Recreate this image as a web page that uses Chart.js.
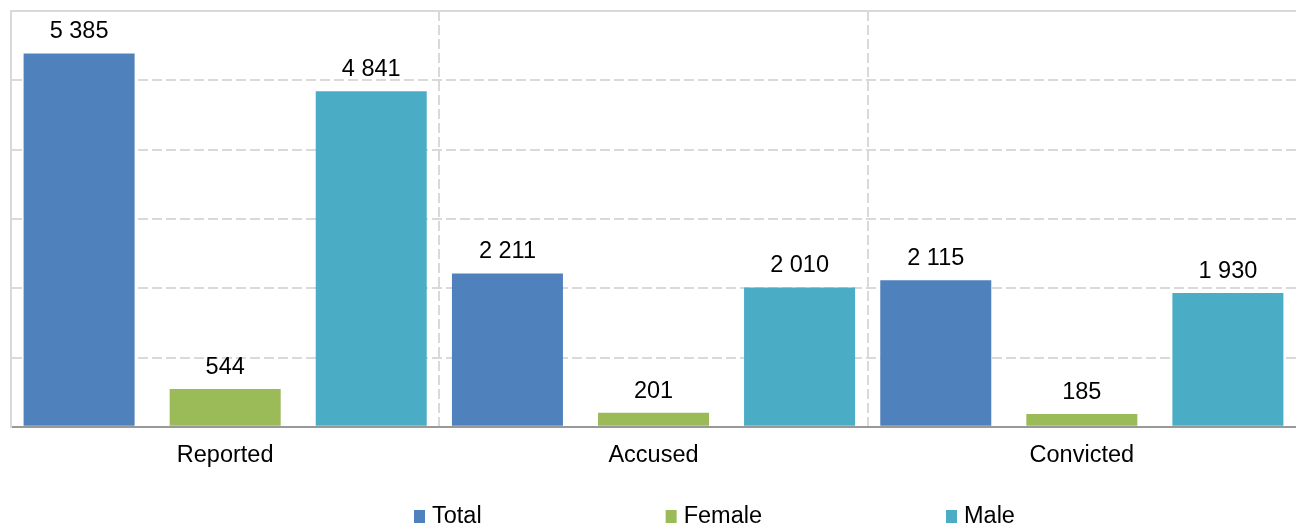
<!DOCTYPE html>
<html>
<head>
<meta charset="utf-8">
<script src="https://cdn.jsdelivr.net/npm/chart.js@4.4.1/dist/chart.umd.min.js"></script>
<style>
  html, body { margin: 0; padding: 0; background: #fff; }
</style>
</head>
<body>
<canvas id="myChart" width="1296" height="527"></canvas>
<script>
const categories = ["Reported", "Accused", "Convicted"];
const seriesNames = ["Total", "Female", "Male"];
const totalValues = [5385, 2211, 2115];
const femaleValues = [544, 201, 185];
const maleValues = [4841, 2010, 1930];
const seriesColors = ["#4F81BD", "#9BBB59", "#4BACC6"];
const yMax = 6000;
const yStep = 1000;

const FONT = "'Liberation Sans', Arial, sans-serif";

function fmt(v){
    return String(v).replace(/\B(?=(\d{3})+(?!\d))/g, " ");
}

// value labels above every bar
const valueLabels = {
    id: "valueLabels",
    afterDatasetsDraw(chart){
        const ctx = chart.ctx;
        ctx.save();
        ctx.font = "23.5px " + FONT;
        ctx.fillStyle = "#000";
        ctx.textAlign = "center";
        ctx.textBaseline = "bottom";
        chart.data.datasets.forEach((ds, i) => {
            chart.getDatasetMeta(i).data.forEach((bar, j) => {
                ctx.fillText(fmt(ds.data[j]), bar.x, bar.y - 10);
            });
        });
        ctx.restore();
    }
};

// legend spread out like the original
const spreadLegend = {
    id: "spreadLegend",
    afterDraw(chart){
        const ctx = chart.ctx;
        ctx.save();
        ctx.font = "23.5px " + FONT;
        ctx.textBaseline = "middle";
        ctx.textAlign = "left";
        let x = 414;
        const y = 517;
        chart.data.datasets.forEach(ds => {
            ctx.fillStyle = ds.backgroundColor;
            ctx.fillRect(x, y - 7, 11, 13);
            ctx.fillStyle = "#000";
            ctx.fillText(ds.label, x + 18, y);
            x += 18 + ctx.measureText(ds.label).width + 184;
        });
        ctx.restore();
    }
};

const datasets = [totalValues, femaleValues, maleValues].map((vals, i) => ({
    label: seriesNames[i],
    data: vals,
    backgroundColor: seriesColors[i],
    borderWidth: 0
}));

const myChart = new Chart("myChart", {
    type: "bar",
    data: {
        labels: categories,
        datasets: datasets
    },
    plugins: [valueLabels, spreadLegend],
    options: {
        responsive: false,
        animation: false,
        categoryPercentage: 1.023,
        barPercentage: 0.76,
        layout: {padding: {top: 11, left: 11, right: 0, bottom: 42}},
        plugins: {
            legend: {display: false},
            tooltip: {enabled: false}
        },
        scales: {
            x: {
                grid: {
                    display: true,
                    offset: true,
                    // no line on the far right edge
                    color: c => c.tick ? "#d9d9d9" : "rgba(0,0,0,0)",
                    lineWidth: 2,
                    drawTicks: false
                },
                border: {display: true, color: "#999999", width: 2, dash: [10, 4]},
                ticks: {
                    color: "#000",
                    padding: 15,
                    font: {family: FONT, size: 23.5}
                }
            },
            y: {
                min: 0,
                max: yMax,
                ticks: {display: false, stepSize: yStep},
                grid: {
                    color: "#d9d9d9",
                    lineWidth: 2,
                    drawTicks: false
                },
                border: {
                    display: true,
                    color: "#d9d9d9",
                    width: 2,
                    dash: c => (c.tick && c.tick.value === yMax) ? [] : [10, 4]
                }
            }
        }
    }
});
</script>
</body>
</html>
